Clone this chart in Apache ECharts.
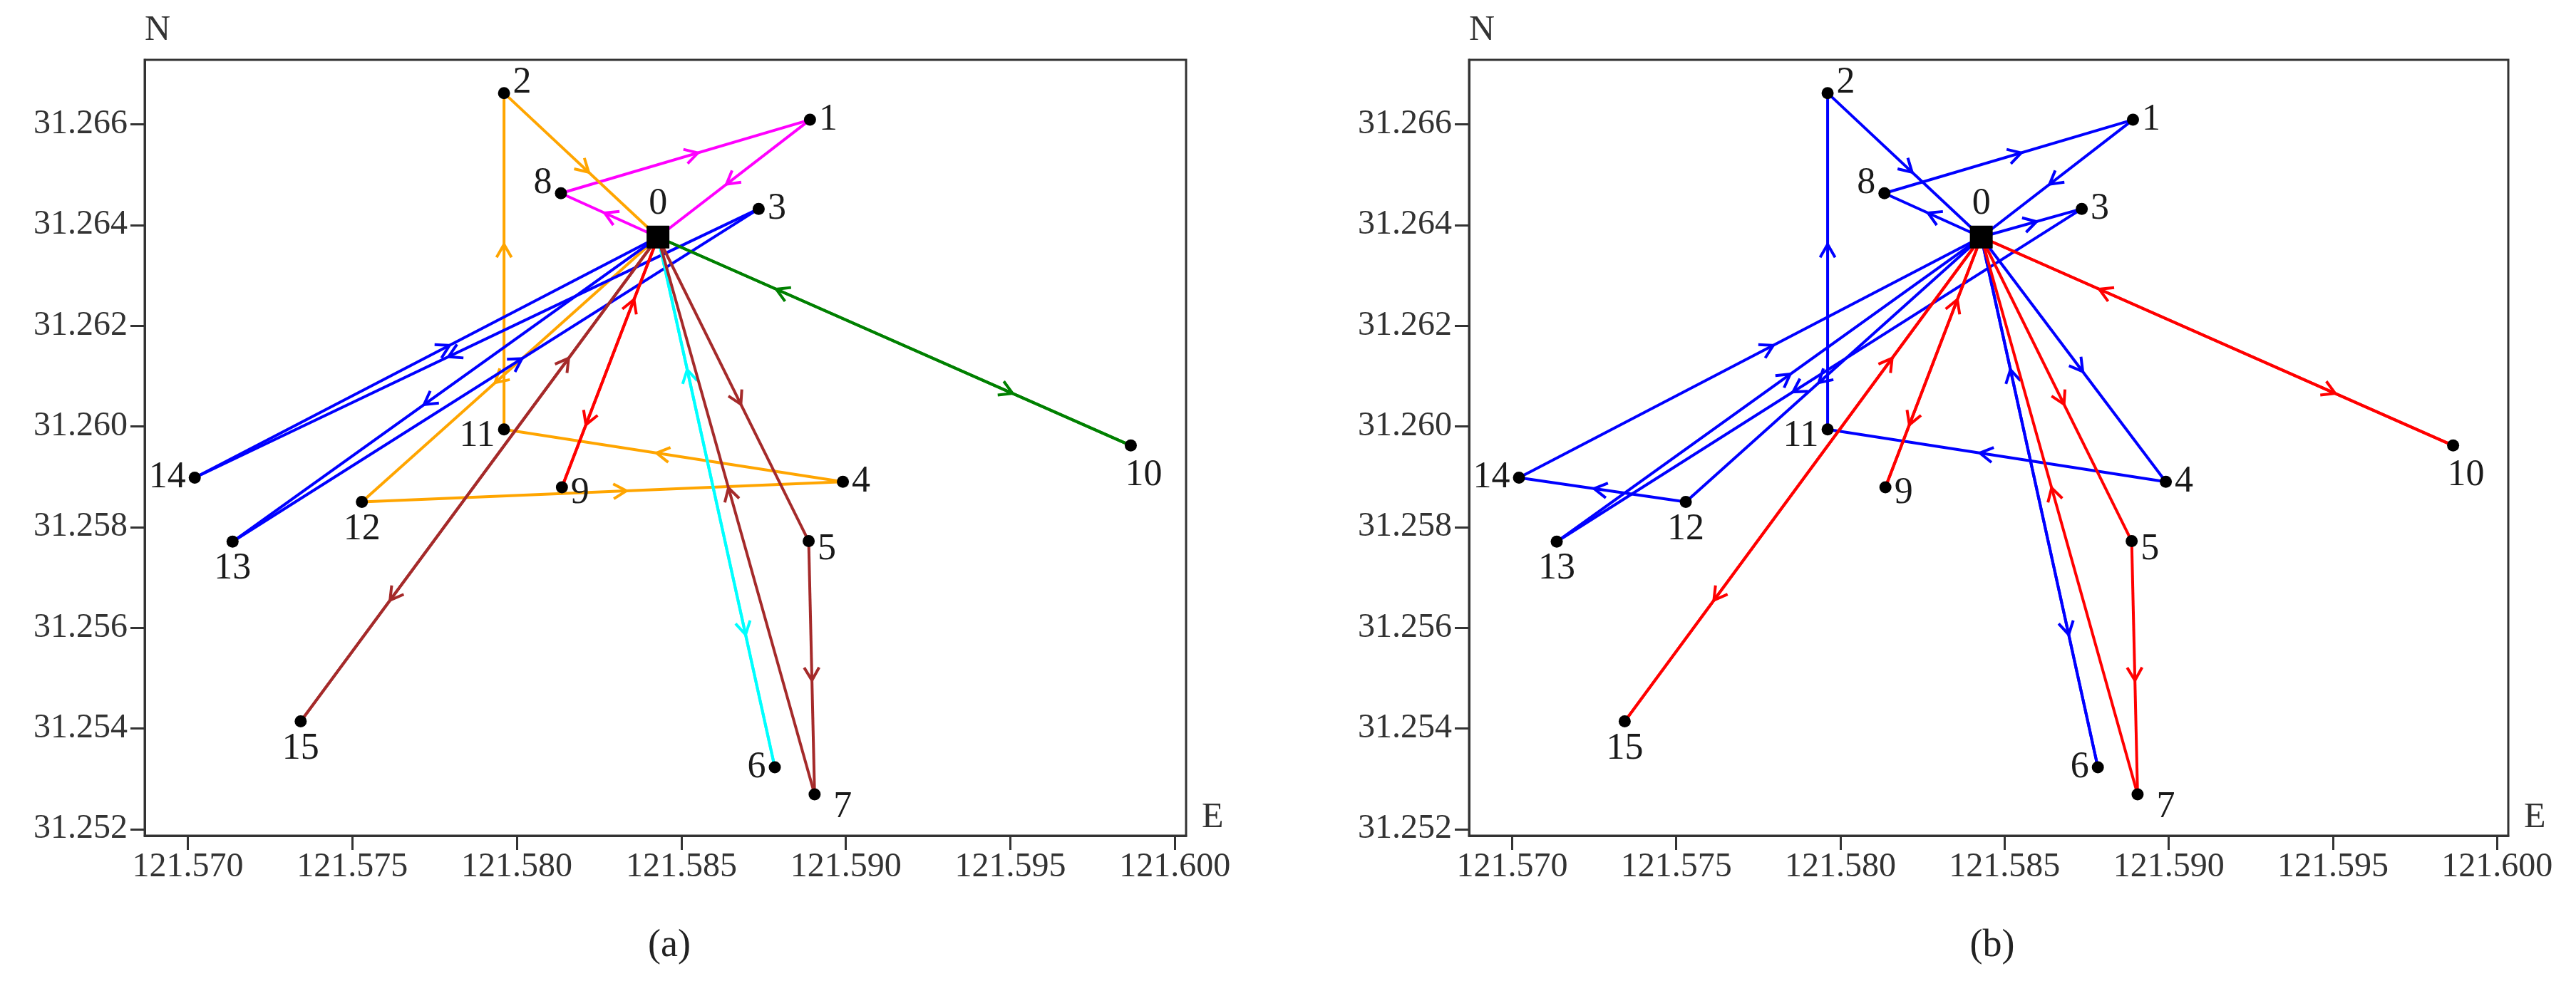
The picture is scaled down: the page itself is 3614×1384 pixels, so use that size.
<!DOCTYPE html>
<html>
<head>
<meta charset="utf-8">
<title>Vehicle routes (a) / (b)</title>
<script src="https://cdn.jsdelivr.net/npm/echarts@6.0.0/dist/echarts.min.js"></script>
<style>
  html, body { margin: 0; padding: 0; background: #ffffff; }
  #chart { width: 3614px; height: 1384px; }
</style>
</head>
<body>
<div id="chart"></div>
<script>
// node coordinates, index = node number (0 = depot)
const nodeLon = [121.58429, 121.58891, 121.57961, 121.58735, 121.58991, 121.58887, 121.58784, 121.58905,
                 121.58134, 121.58137, 121.59866, 121.57961, 121.57529, 121.57136, 121.57021, 121.57343];
const nodeLat = [31.26376, 31.26609, 31.26662, 31.26432, 31.25890, 31.25772, 31.25323, 31.25269,
                 31.26463, 31.25879, 31.25962, 31.25994, 31.25850, 31.25771, 31.25898, 31.25414];

const lonTicks = [121.570, 121.575, 121.580, 121.585, 121.590, 121.595, 121.600];
const latTicks = [31.252, 31.254, 31.256, 31.258, 31.260, 31.262, 31.264, 31.266];

// panel (a): one route per vehicle, in visiting order
const routesA = [
  [0, 8, 1, 0],
  [0, 12, 4, 11, 2, 0],
  [0, 13, 3, 14, 0],
  [0, 9, 0],
  [0, 6, 0],
  [0, 5, 7, 0],
  [0, 15, 0],
  [0, 10, 0]
];
const routeColorsA = ["#ff00ff", "#ffa500", "#0000ff", "#ff0000", "#00ffff", "#a52a2a", "#a52a2a", "#008000"];

// panel (b)
const routesB = [
  [0, 8, 1, 0],
  [0, 4, 11, 2, 0],
  [0, 12, 14, 0],
  [0, 3, 13, 0],
  [0, 6, 0],
  [0, 10, 0],
  [0, 15, 0],
  [0, 9, 0],
  [0, 5, 7, 0]
];
const routeColorsB = ["#0000ff", "#0000ff", "#0000ff", "#0000ff", "#0000ff", "#ff0000", "#ff0000", "#ff0000", "#ff0000"];

// label placement of node numbers
const labelPos = ["top", "right", "right", "right", "right", "right", "left", "right",
                  "left", "right", "bottom", "left", "bottom", "bottom", "left", "bottom"];
const labelOffset = [[0, 0], [0, 0], [0, -14], [0, 0], [0, 0], [0, 12], [0, 0], [14, 18],
                     [0, -14], [0, 8], [18, 4], [0, 10], [0, 0], [0, 0], [0, 0], [0, 0]];

const FONT = '"Liberation Serif", "Times New Roman", serif';
const X_MIN = 121.568689, X_MAX = 121.60034;
const Y_MIN = 31.25187, Y_MAX = 31.26728;

function buildSegments(routes, colors) {
  const segs = [];
  routes.forEach((r, k) => {
    for (let i = 0; i < r.length - 1; i++) {
      segs.push({ from: r[i], to: r[i + 1], color: colors[k] });
    }
  });
  const keys = new Set(segs.map(s => s.from + "-" + s.to));
  segs.forEach(s => { s.back = keys.has(s.to + "-" + s.from); });
  return segs;
}

function routeRenderer(segs) {
  return function (params, api) {
    const s = segs[params.dataIndex];
    const p1 = api.coord([api.value(0), api.value(1)]);
    const p2 = api.coord([api.value(2), api.value(3)]);
    const t = s.back ? 0.75 : 0.55;
    const mx = p1[0] + (p2[0] - p1[0]) * t;
    const my = p1[1] + (p2[1] - p1[1]) * t;
    const a = Math.atan2(p2[1] - p1[1], p2[0] - p1[0]);
    const L = 21, w = Math.PI / 6;
    const b1 = [mx - L * Math.cos(a - w), my - L * Math.sin(a - w)];
    const b2 = [mx - L * Math.cos(a + w), my - L * Math.sin(a + w)];
    return {
      type: "group",
      children: [
        { type: "line", shape: { x1: p1[0], y1: p1[1], x2: p2[0], y2: p2[1] },
          style: { stroke: s.color, lineWidth: 4 } },
        { type: "polyline", shape: { points: [b1, [mx, my], b2] },
          style: { stroke: s.color, fill: null, lineWidth: 4 } }
      ]
    };
  };
}

function routeSeries(routes, colors, gi) {
  const segs = buildSegments(routes, colors);
  return {
    type: "custom",
    xAxisIndex: gi,
    yAxisIndex: gi,
    silent: true,
    z: 2,
    encode: { x: [0, 2], y: [1, 3] },
    data: segs.map(s => [nodeLon[s.from], nodeLat[s.from], nodeLon[s.to], nodeLat[s.to]]),
    renderItem: routeRenderer(segs)
  };
}

function nodeSeries(gi) {
  return {
    type: "scatter",
    xAxisIndex: gi,
    yAxisIndex: gi,
    silent: true,
    z: 5,
    itemStyle: { color: "#000000", opacity: 1 },
    label: {
      show: true,
      formatter: p => String(p.dataIndex),
      fontFamily: FONT,
      fontSize: 52,
      color: "#1a1a1a",
      distance: 4
    },
    data: nodeLon.map((lon, i) => ({
      value: [lon, nodeLat[i]],
      symbol: i === 0 ? "rect" : "circle",
      symbolSize: i === 0 ? 32 : 17,
      label: { position: labelPos[i], offset: labelOffset[i] }
    }))
  };
}

function xAxis(gi) {
  return {
    type: "value", gridIndex: gi, min: X_MIN, max: X_MAX,
    name: "E", nameLocation: "end", nameGap: 22,
    nameTextStyle: { fontFamily: FONT, fontSize: 50, color: "#333", verticalAlign: "bottom" },
    axisLine: { show: true, onZero: false, lineStyle: { color: "#333", width: 3 } },
    axisTick: { show: true, customValues: lonTicks, length: 20, lineStyle: { color: "#333", width: 3 } },
    axisLabel: { customValues: lonTicks, formatter: v => v.toFixed(3), fontFamily: FONT,
                 fontSize: 48, color: "#333", margin: 20 },
    splitLine: { show: false }
  };
}

function yAxis(gi) {
  return {
    type: "value", gridIndex: gi, min: Y_MIN, max: Y_MAX,
    name: "N", nameLocation: "end", nameGap: 16,
    nameTextStyle: { fontFamily: FONT, fontSize: 50, color: "#333", align: "left" },
    axisLine: { show: true, onZero: false, lineStyle: { color: "#333", width: 3 } },
    axisTick: { show: true, customValues: latTicks, length: 20, lineStyle: { color: "#333", width: 3 } },
    axisLabel: { customValues: latTicks, formatter: v => v.toFixed(3), fontFamily: FONT,
                 fontSize: 48, color: "#333", margin: 24 },
    splitLine: { show: false }
  };
}

const chart = echarts.init(document.getElementById("chart"), null, { renderer: "canvas" });

const option = {
  animation: false,
  backgroundColor: "#ffffff",
  grid: [
    { left: 203, top: 84, width: 1461, height: 1089, show: true, borderColor: "#333", borderWidth: 3,
      containLabel: false, outerBoundsMode: "none" },
    { left: 2061, top: 84, width: 1458, height: 1089, show: true, borderColor: "#333", borderWidth: 3,
      containLabel: false, outerBoundsMode: "none" }
  ],
  xAxis: [xAxis(0), xAxis(1)],
  yAxis: [yAxis(0), yAxis(1)],
  series: [
    routeSeries(routesA, routeColorsA, 0),
    nodeSeries(0),
    routeSeries(routesB, routeColorsB, 1),
    nodeSeries(1)
  ],
  graphic: [
    { type: "text", x: 939, y: 1328,
      style: { text: "(a)", fontFamily: FONT, fontSize: 54, fill: "#222", align: "center", verticalAlign: "middle" } },
    { type: "text", x: 2795, y: 1328,
      style: { text: "(b)", fontFamily: FONT, fontSize: 54, fill: "#222", align: "center", verticalAlign: "middle" } }
  ]
};

chart.setOption(option);
</script>
</body>
</html>
